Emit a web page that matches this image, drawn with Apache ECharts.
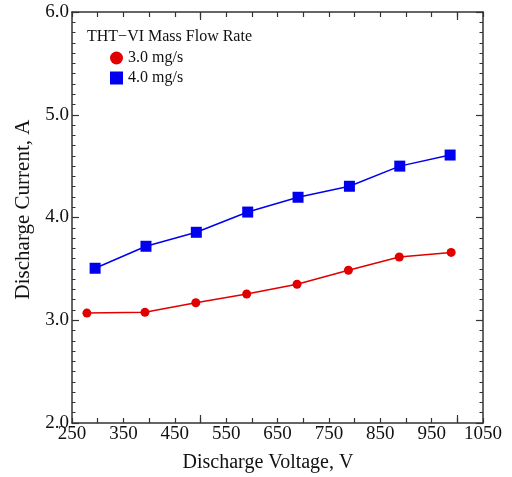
<!DOCTYPE html>
<html>
<head>
<meta charset="utf-8">
<script src="https://cdn.jsdelivr.net/npm/echarts@6/dist/echarts.min.js"></script>
<style>
  html, body { margin: 0; padding: 0; background: #fff; }
  #chart { width: 512px; height: 477px; }
</style>
</head>
<body>
<div id="chart"></div>
<script>
// values
var voltage30 = [279, 392, 491, 590, 688, 788, 887, 988];
var current30 = [3.07, 3.077, 3.17, 3.255, 3.35, 3.487, 3.616, 3.66];
var voltage40 = [295, 394, 492, 592, 690, 790, 888, 986];
var current40 = [3.506, 3.72, 3.856, 4.053, 4.197, 4.304, 4.50, 4.608];
var seriesNames = ['3.0 mg/s', '4.0 mg/s'];
var longTicksX = [500, 1000];

var font = 'Liberation Serif';
var axisColor = '#333';

function pairs(xs, ys) {
  return xs.map(function (x, i) { return [x, ys[i]]; });
}

var chart = echarts.init(document.getElementById('chart'));

// x axes: bottom/top frame lines, plus two for the longer ticks at 500 and 1000
function xAxisBase(pos, showLabel, customTicks, tickLen) {
  var ax = {
    type: 'value',
    position: pos,
    min: 250,
    max: 1050,
    interval: 50,
    splitLine: { show: false },
    axisLine: { show: !customTicks, lineStyle: { color: axisColor, width: 1.5 } },
    axisTick: { show: true, inside: true, length: tickLen, lineStyle: { color: axisColor, width: 1.2 } },
    axisLabel: { show: false }
  };
  if (customTicks) {
    ax.axisTick.customValues = customTicks;
  }
  if (showLabel) {
    ax.name = 'Discharge Voltage, V';
    ax.nameLocation = 'middle';
    ax.nameGap = 30;
    ax.nameTextStyle = { fontFamily: font, fontSize: 20, color: '#111', padding: [0, 19, 0, 0] };
    ax.axisLabel = {
      show: true,
      margin: 2,
      fontFamily: font,
      fontSize: 19,
      color: '#111',
      formatter: function (v) { return (v - 250) % 100 === 0 ? String(v) : ''; }
    };
  }
  return ax;
}

function yAxisBase(pos, showLabel) {
  var ax = {
    type: 'value',
    position: pos,
    min: 2,
    max: 6,
    interval: 1,
    splitLine: { show: false },
    axisLine: { show: true, lineStyle: { color: axisColor, width: 1.5 } },
    axisTick: { show: true, inside: true, length: 7, lineStyle: { color: axisColor, width: 1.2 } },
    minorTick: { show: true, splitNumber: 10, length: 3.5, lineStyle: { color: axisColor, width: 1 } },
    axisLabel: { show: false }
  };
  if (showLabel) {
    ax.name = 'Discharge Current, A';
    ax.nameLocation = 'middle';
    ax.nameGap = 38;
    ax.nameTextStyle = { fontFamily: font, fontSize: 21, color: '#111', padding: [0, 0, 0, 16] };
    ax.axisLabel = {
      show: true,
      margin: 3,
      fontFamily: font,
      fontSize: 19,
      color: '#111',
      formatter: function (v) { return v.toFixed(1); }
    };
  }
  return ax;
}

var option = {
  backgroundColor: '#fff',
  animation: false,
  title: {
    text: 'THT\u2212VI Mass Flow Rate',
    left: 82,
    top: 24,
    textStyle: { fontFamily: font, fontSize: 16, fontWeight: 'normal', color: '#111' }
  },
  legend: {
    orient: 'vertical',
    left: 105,
    top: 45,
    itemGap: 4,
    itemWidth: 13,
    itemHeight: 13,
    textStyle: { fontFamily: font, fontSize: 16, color: '#111' },
    data: [
      { name: seriesNames[0], icon: 'circle' },
      { name: seriesNames[1], icon: 'rect' }
    ]
  },
  grid: { left: 72, right: 29, top: 12, bottom: 54, outerBoundsMode: 'none' },
  xAxis: [
    xAxisBase('bottom', true, null, 5),
    xAxisBase('top', false, null, 5),
    xAxisBase('bottom', false, longTicksX, 8),
    xAxisBase('top', false, longTicksX, 8)
  ],
  yAxis: [
    yAxisBase('left', true),
    yAxisBase('right', false)
  ],
  series: [
    {
      name: seriesNames[0],
      type: 'line',
      data: pairs(voltage30, current30),
      symbol: 'circle',
      symbolSize: 9,
      itemStyle: { color: '#e00000' },
      lineStyle: { color: '#e00000', width: 1.5 }
    },
    {
      name: seriesNames[1],
      type: 'line',
      data: pairs(voltage40, current40),
      symbol: 'rect',
      symbolSize: 11,
      itemStyle: { color: '#0000ee' },
      lineStyle: { color: '#0000ee', width: 1.5 }
    }
  ]
};

chart.setOption(option);
</script>
</body>
</html>
